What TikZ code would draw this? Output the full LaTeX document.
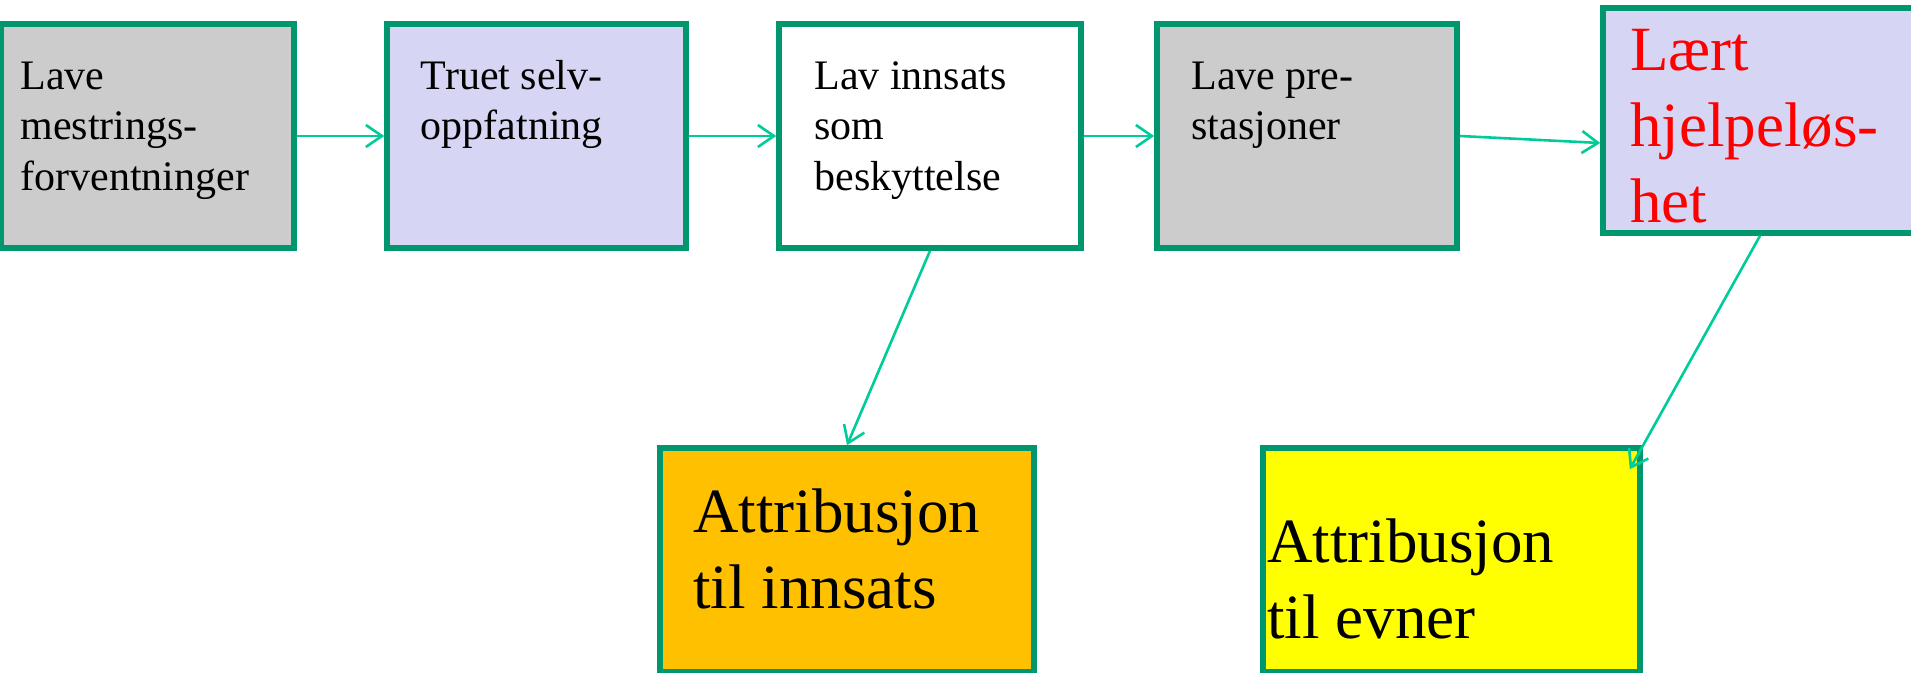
\documentclass[tikz,border=0pt]{standalone}
\usepackage{fontspec}
\setmainfont{Liberation Serif}
\usetikzlibrary{arrows.meta,fit,calc}
\definecolor{frame}{RGB}{0,150,110}
\definecolor{linkgreen}{RGB}{0,204,153}
\definecolor{greyfill}{RGB}{204,204,204}
\definecolor{lavender}{RGB}{214,214,244}
\definecolor{orangefill}{RGB}{255,192,0}
\definecolor{yellowfill}{RGB}{255,255,0}
\definecolor{redtext}{RGB}{255,0,0}
% strut that puts the top of a text node one em above its first baseline
\newcommand\lnstrut{\rule{0pt}{1em}}
\begin{document}
\begin{tikzpicture}[x=0.5pt,y=-0.5pt,
  box/.style={draw=frame,line width=2.8pt,inner sep=0pt},
  link/.style={draw=linkgreen,line width=1.3pt,-{Straight Barb[length=8pt,width=11pt]}},
  small/.style={anchor=north west,inner sep=0pt,align=left,font=\fontsize{21}{25.25}\selectfont},
  big/.style={anchor=north west,inner sep=0pt,align=left,font=\fontsize{31.5}{38}\selectfont}]
\useasboundingbox (0,0) rectangle (1911,673);

% boxes
\node (b1) [box,fill=greyfill,fit={(1.5,24) (294,248)}] {};
\node (b2) [box,fill=lavender,fit={(387,24) (686,248)}] {};
\node (b3) [box,fill=white,fit={(779,24) (1081,248)}] {};
\node (b4) [box,fill=greyfill,fit={(1157,24) (1457,248)}] {};
\node (b5) [box,fill=lavender,fit={(1603,8) (1917,233)}] {};
\node (b6) [box,fill=orangefill,fit={(660,448) (1034,672)}] {};
\node (b7) [box,fill=yellowfill,fit={(1263,448) (1640,672)}] {};

% texts
\node (t1) [small] at (20,47) {\lnstrut Lave\\mestrings-\\forventninger};
\node (t2) [small] at (420.5,47) {\lnstrut Truet selv-\\oppfatning};
\node (t3) [small] at (814,47) {\lnstrut Lav innsats\\som\\beskyttelse};
\node (t4) [small] at (1191,47) {\lnstrut Lave pre-\\stasjoner};
\node (t5) [big,text=redtext] at (1630,7) {\lnstrut Lært\\hjelpeløs-\\het};
\node (t6) [big] at (693,469) {\lnstrut Attribusjon\\til innsats};
\node (t7) [big] at (1267,499) {\lnstrut Attribusjon\\til evner};

% connectors
\coordinate (in5) at ($(b5.west)+(0,22.5)$);
\coordinate (in7) at ($(b7.north east)+(-13,24)$);
\draw[link] (b1.east) -- (b2.west);
\draw[link] (b2.east) -- (b3.west);
\draw[link] (b3.east) -- (b4.west);
\draw[link] (b4.east) -- (in5);
\draw[link] (b3.south) -- (b6.north);
\draw[link] (b5.south) -- (in7);
\end{tikzpicture}
\end{document}
